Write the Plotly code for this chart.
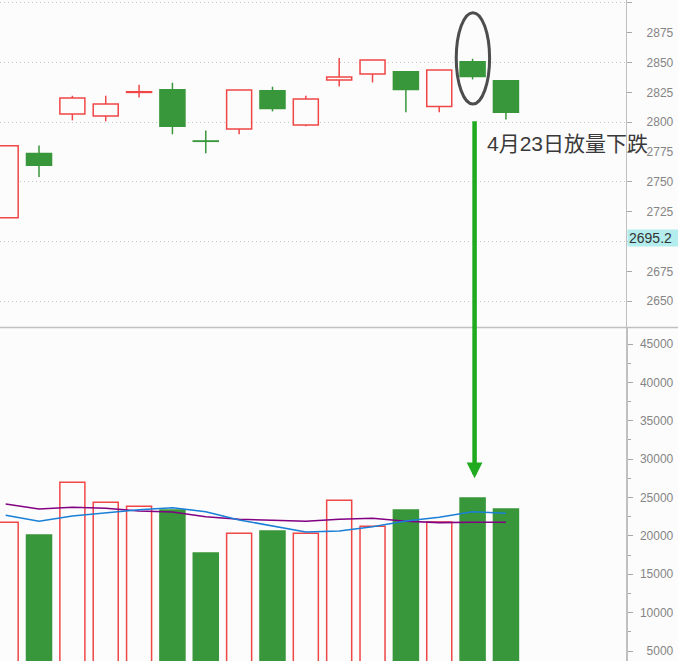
import plotly.graph_objects as go

# ---------------- data ----------------
dates = ["4月2日", "4月3日", "4月4日", "4月8日", "4月9日", "4月10日", "4月11日", "4月12日",
         "4月15日", "4月16日", "4月17日", "4月18日", "4月19日", "4月22日", "4月23日", "4月24日"]
open_ = [2720.0, 2773.7, 2806.9, 2805.3, 2825.0, 2827.3, 2784.3, 2794.4,
         2826.4, 2797.7, 2835.4, 2840.4, 2842.3, 2813.3, 2850.7, 2834.8]
close = [2780.2, 2764.0, 2820.3, 2815.3, 2825.6, 2796.6, 2784.0, 2827.0,
         2811.6, 2819.5, 2837.9, 2852.1, 2827.5, 2843.7, 2838.4, 2808.3]
high = [2780.2, 2780.4, 2822.2, 2822.2, 2831.4, 2833.1, 2793.0, 2827.0,
        2829.8, 2822.2, 2853.8, 2852.1, 2842.3, 2843.7, 2853.2, 2834.8]
low = [2720.0, 2754.0, 2801.6, 2800.8, 2820.8, 2789.9, 2774.0, 2789.9,
       2809.1, 2796.6, 2830.0, 2833.4, 2808.3, 2808.3, 2835.9, 2802.4]
volume = [21770, 20110, 26980, 24380, 23850, 23370, 17770, 20340,
          20640, 20340, 24640, 21250, 23370, 21810, 24940, 23500]
ma_fast = [22680, 21900, 22590, 23020, 23410, 23670, 23150, 22070,
           21330, 20510, 20640, 21200, 21940, 22420, 23150, 22940]
ma_slow = [24150, 23500, 23720, 23590, 23240, 23110, 22500, 22160,
           22030, 21900, 22160, 22290, 21900, 21720, 21770, 21770]

price_ticks = [2650, 2675, 2725, 2750, 2775, 2800, 2825, 2850, 2875, 2900]
price_grid = [2650, 2700, 2750, 2800, 2850, 2900]
price_minor = [2625, 2650, 2675, 2700, 2725, 2750, 2775, 2800, 2825, 2850, 2875, 2900]
vol_ticks = [5000, 10000, 15000, 20000, 25000, 30000, 35000, 40000, 45000]
vol_grid = [5000, 10000, 15000, 20000, 25000, 30000, 35000, 40000]
vol_minor = [2500, 7500, 12500, 17500, 22500, 27500, 32500, 37500, 42500, 47500]
last_price = 2695.2
note_text = "4月23日放量下跌"
note_day = "4月23日"

# ---------------- style ----------------
RED = "#f04646"
GREEN = "#38973a"
BG = "#fcfcfc"
AXIS = "#c0c0c0"
TICKC = "#a8a8a8"
LABELC = "#858585"
W, H = 678, 661
XR = 626 / W
TOP_DOM = [1 - 327 / H, 1]
BOT_DOM = [0, 1 - 328 / H]
XRANGE = [-0.17, 18.6]
TOP_RANGE = [2628.3, 2902.5]
BOT_RANGE = [3697, 47085]

up = [c >= o for o, c in zip(open_, close)]

fig = go.Figure()

# wicks
for flag, col in ((True, RED), (False, GREEN)):
    xs, ys = [], []
    for d, o, c, h, l, u in zip(dates, open_, close, high, low, up):
        if u != flag:
            continue
        top, bot = max(o, c), min(o, c)
        if h > top:
            xs += [d, d, None]
            ys += [h, top, None]
        if l < bot:
            xs += [d, d, None]
            ys += [bot, l, None]
    fig.add_trace(go.Scatter(x=xs, y=ys, mode="lines", line=dict(color=col, width=1.5),
                             xaxis="x", yaxis="y", hoverinfo="skip", showlegend=False))

# bodies
for flag, col, fill in ((True, RED, BG), (False, GREEN, GREEN)):
    xs = [d for d, u in zip(dates, up) if u == flag]
    base = [min(o, c) for o, c, u in zip(open_, close, up) if u == flag]
    hgt = [max(abs(c - o), 0.3) for o, c, u in zip(open_, close, up) if u == flag]
    fig.add_trace(go.Bar(x=xs, y=hgt, base=base, width=0.75,
                         marker=dict(color=fill, line=dict(color=col, width=1.5)),
                         xaxis="x", yaxis="y", hoverinfo="skip", showlegend=False))

# volume bars
for flag, col, fill in ((True, RED, BG), (False, GREEN, GREEN)):
    xs = [d for d, u in zip(dates, up) if u == flag]
    vs = [v for v, u in zip(volume, up) if u == flag]
    fig.add_trace(go.Bar(x=xs, y=vs, width=0.75,
                         marker=dict(color=fill, line=dict(color=col, width=1.5)),
                         xaxis="x2", yaxis="y2", hoverinfo="skip", showlegend=False))

# moving averages of volume
fig.add_trace(go.Scatter(x=dates, y=ma_slow, mode="lines", line=dict(color="#820082", width=1.6),
                         xaxis="x2", yaxis="y2", hoverinfo="skip", showlegend=False))
fig.add_trace(go.Scatter(x=dates, y=ma_fast, mode="lines", line=dict(color="#1a7fd6", width=1.6),
                         xaxis="x2", yaxis="y2", hoverinfo="skip", showlegend=False))

# dummy traces to attach overlay axes
for ya in ("y3", "y4"):
    fig.add_trace(go.Scatter(x=[dates[0]], y=[None], xaxis="x" if ya == "y3" else "x2", yaxis=ya,
                             mode="markers", hoverinfo="skip", showlegend=False))

lab_font = dict(family="Liberation Sans, Arial, sans-serif", size=12, color=LABELC)

fig.update_layout(
    width=W, height=H,
    margin=dict(l=0, r=0, t=0, b=0),
    paper_bgcolor=BG, plot_bgcolor=BG,
    barmode="overlay",
    showlegend=False,
    xaxis=dict(domain=[0, XR], range=XRANGE, type="category", categoryorder="array",
               categoryarray=dates, visible=False, anchor="y"),
    xaxis2=dict(domain=[0, XR], range=XRANGE, type="category", categoryorder="array",
                categoryarray=dates, visible=False, anchor="y2"),
    yaxis=dict(domain=TOP_DOM, range=TOP_RANGE, side="right", anchor="x",
               showline=True, linecolor=AXIS, linewidth=1, mirror=False,
               tickmode="array", tickvals=price_grid, ticks="outside", ticklen=5, tickcolor=TICKC,
               showticklabels=False, showgrid=True, gridcolor="#c6c6c6", griddash="1px,3px",
               gridwidth=1, zeroline=False,
               minor=dict(tickmode="array", tickvals=price_minor, ticks="outside", ticklen=5,
                          tickcolor=TICKC, showgrid=False)),
    yaxis3=dict(overlaying="y", anchor="free", position=0.9975, side="right",
                range=TOP_RANGE, tickmode="array", tickvals=price_ticks,
                ticklabelposition="inside", ticks="", showline=False, showgrid=False,
                zeroline=False, tickfont=lab_font, tickformat="d"),
    yaxis2=dict(domain=BOT_DOM, range=BOT_RANGE, side="right", anchor="x2",
                showline=True, linecolor=AXIS, linewidth=2,
                tickmode="array", tickvals=vol_ticks, ticks="outside", ticklen=5, tickcolor=TICKC,
                showticklabels=False, showgrid=False, zeroline=False,
                minor=dict(tickmode="array", tickvals=vol_minor, ticks="outside", ticklen=3,
                           tickcolor=TICKC, showgrid=False)),
    yaxis4=dict(overlaying="y2", anchor="free", position=0.9975, side="right",
                range=BOT_RANGE, tickmode="array", tickvals=vol_ticks,
                ticklabelposition="inside", ticks="", showline=False, zeroline=False,
                showgrid=False, tickfont=lab_font, tickformat="d"),
    yaxis5=dict(overlaying="y2", anchor="x2", side="right", range=BOT_RANGE,
                tickmode="array", tickvals=vol_grid, ticks="", showticklabels=False,
                showline=False, zeroline=False, showgrid=True, gridcolor="#c6c6c6",
                griddash="1px,3px", gridwidth=1),
)

# separator line between panels
fig.add_shape(type="line", xref="paper", yref="paper", x0=0, x1=1,
              y0=1 - 327.5 / H, y1=1 - 327.5 / H, line=dict(color=AXIS, width=1.5))

# ellipse highlighting the 4/23 candle
i23 = dates.index(note_day)
fig.add_shape(type="circle", xref="x", yref="y", x0=i23 - 0.49, x1=i23 + 0.51,
              y0=2815.3, y1=2891.9, line=dict(color="#4d4d4d", width=3))

# text note
fig.add_annotation(text=note_text, xref="paper", yref="paper", x=485 / W, y=1 - 143 / H,
                   xanchor="left", yanchor="middle", showarrow=False,
                   font=dict(family="Liberation Sans, Noto Sans CJK SC, sans-serif", size=21,
                             color="#3a3a3a"))

# green arrow down to the volume bar
fig.add_annotation(text=" ", xref="x2", yref="y2", x=note_day, y=27500, xshift=2,
                   ax=0, ay=-359, showarrow=True, arrowhead=2, arrowsize=0.7,
                   arrowwidth=4.5, arrowcolor="#1faa1f", font=dict(size=1))

# last price label
fig.add_annotation(text=f"{last_price:.1f}", xref="paper", yref="y", x=627 / W, y=last_price,
                   xanchor="left", yanchor="bottom", showarrow=False, align="left",
                   width=49, height=14, borderpad=1, bgcolor="#b4eded",
                   font=dict(family="Liberation Sans, Arial, sans-serif", size=14, color="#333333"))

fig.write_html("out.html")
